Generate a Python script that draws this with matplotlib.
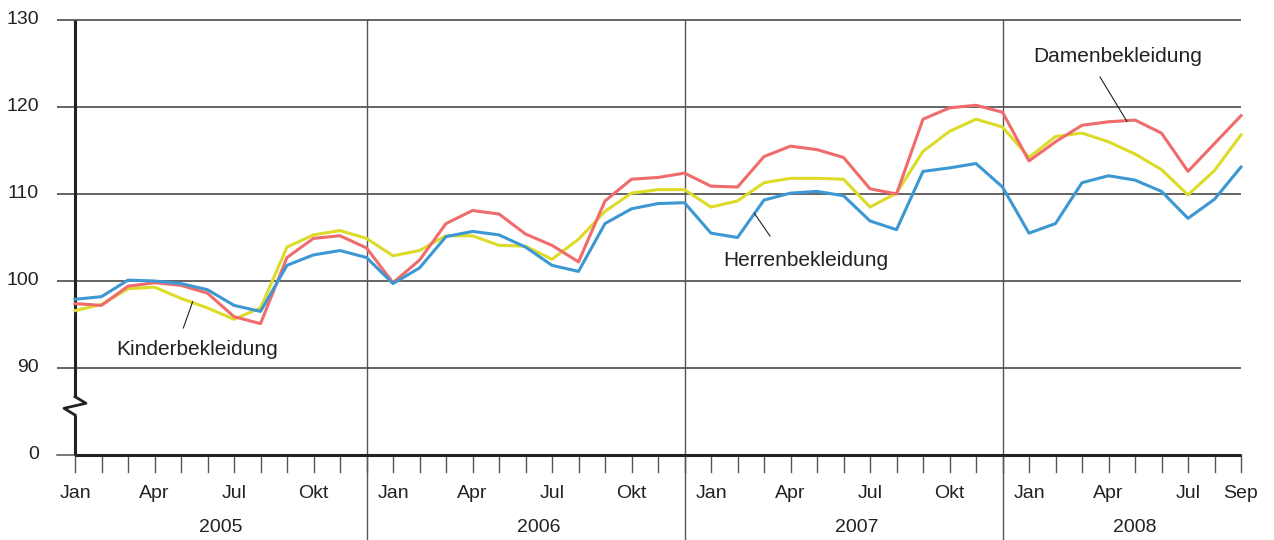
import matplotlib
matplotlib.use("Agg")
import matplotlib.pyplot as plt

plt.rcParams['font.family'] = ['Liberation Sans', 'DejaVu Sans']

# ---------------- data ----------------
month_names = ['Jan', 'Feb', 'Mär', 'Apr', 'Mai', 'Jun',
               'Jul', 'Aug', 'Sep', 'Okt', 'Nov', 'Dez']
years = ['2005', '2006', '2007', '2008']
n_months = 45  # Jan 2005 .. Sep 2008

damen = [97.4, 97.2, 99.4, 99.8, 99.5, 98.6, 95.9, 95.1, 102.7, 104.9, 105.2, 103.8,
         99.8, 102.4, 106.6, 108.1, 107.7, 105.4, 104.1, 102.2, 109.2, 111.7, 111.9, 112.4,
         110.9, 110.8, 114.3, 115.5, 115.1, 114.2, 110.6, 110.0, 118.6, 119.9, 120.2, 119.4,
         113.8, 116.0, 117.9, 118.3, 118.5, 117.0, 112.6, 115.8, 119.0]
herren = [97.9, 98.2, 100.1, 100.0, 99.7, 99.0, 97.2, 96.5, 101.8, 103.0, 103.5, 102.7,
          99.7, 101.5, 105.1, 105.7, 105.3, 103.9, 101.8, 101.1, 106.6, 108.3, 108.9, 109.0,
          105.5, 105.0, 109.3, 110.1, 110.3, 109.8, 106.9, 105.9, 112.6, 113.0, 113.5, 110.8,
          105.5, 106.6, 111.3, 112.1, 111.6, 110.3, 107.2, 109.4, 113.1]
kinder = [96.6, 97.3, 99.1, 99.3, 98.0, 96.9, 95.6, 96.9, 103.9, 105.3, 105.8, 104.9,
          102.9, 103.5, 105.2, 105.2, 104.1, 104.0, 102.5, 104.8, 108.0, 110.1, 110.5, 110.5,
          108.5, 109.2, 111.3, 111.8, 111.8, 111.7, 108.5, 110.1, 114.9, 117.2, 118.6, 117.7,
          114.2, 116.6, 117.0, 116.0, 114.6, 112.8, 109.9, 112.7, 116.8]

y_tick_values = [80, 90, 100, 110, 120, 130]
y_tick_labels = ['0', '90', '100', '110', '120', '130']

# ---------------- layout ----------------
W, H = 1274, 540
X0, X1, YT, YB = 75, 1241, 20, 455
fig = plt.figure(figsize=(W / 100, H / 100), dpi=100)
ax = fig.add_axes([X0 / W, (H - YB) / H, (X1 - X0) / W, (YB - YT) / H])
ax.set_xlim(0, n_months - 1)
ax.set_ylim(80, 130)
ax.axis('off')

px_per_month = (X1 - X0) / (n_months - 1)
px_per_unit = (YB - YT) / 50.0


def dx(px):
    return (px - X0) / px_per_month


def dy(py):
    return 80 + (YB - py) / px_per_unit


grid_col = '#3a3a3a'
axis_col = '#222222'
tick_col = '#555555'

# horizontal grid lines (extend left as ticks)
for v in y_tick_values[1:]:
    ax.plot([dx(57), n_months - 1], [v, v], color=grid_col, lw=1.1,
            clip_on=False, zorder=1, solid_capstyle='butt')
# zero tick
ax.plot([dx(57), 0], [80, 80], color=tick_col, lw=1.1, clip_on=False, zorder=1)

# y tick labels
for v, lab in zip(y_tick_values, y_tick_labels):
    ax.text(dx(39), v, lab, ha='right', va='center', fontsize=14, color='#222222')

# year separators
for i in [11, 23, 35]:
    ax.plot([i, i], [130, dy(540)], color=tick_col, lw=1.0, clip_on=False, zorder=1)

# month ticks and labels
for i in range(n_months):
    ax.plot([i, i], [80, dy(472)], color=tick_col, lw=1.0, clip_on=False, zorder=1)
    m = i % 12
    if m % 3 == 0 or i == n_months - 1:
        ax.text(i, dy(493), month_names[m], ha='center', va='center',
                fontsize=14, color='#222222')

# year labels
year_centers = [5.5, 17.5, 29.5, 40.0]
for c, y in zip(year_centers, years):
    ax.text(c, dy(527), y, ha='center', va='center', fontsize=14, color='#222222')

# bottom axis line
ax.plot([0, n_months - 1], [80, 80], color=axis_col, lw=2.2, clip_on=False,
        zorder=2, solid_capstyle='butt')

# left axis with break
ax.plot([0, 0], [130, dy(396.7)], color=axis_col, lw=2.2, clip_on=False, zorder=2,
        solid_capstyle='butt')
ax.plot([0, dx(86), dx(64), 0], [dy(396.7), dy(403.3), dy(408.3), dy(415)],
        color=axis_col, lw=2.0, clip_on=False, zorder=2)
ax.plot([0, 0], [dy(415), 80], color=axis_col, lw=2.2, clip_on=False, zorder=2,
        solid_capstyle='butt')

# series
x = list(range(n_months))
ax.plot(x, kinder, color='#dcdc28', lw=2.2, zorder=3, clip_on=False)
ax.plot(x, damen, color='#f06b6b', lw=2.2, zorder=4, clip_on=False)
ax.plot(x, herren, color='#3d97d3', lw=2.2, zorder=5, clip_on=False)

# annotations
ann_col = '#222222'
ax.plot([dx(192.7), dx(183.3)], [dy(301.7), dy(328)], color=ann_col, lw=0.8, zorder=6)
ax.text(dx(197.5), dy(350), 'Kinderbekleidung', ha='center', va='center',
        fontsize=15, color=ann_col)
ax.plot([dx(754.3), dx(770)], [dy(213.3), dy(236)], color=ann_col, lw=0.8, zorder=6)
ax.text(dx(806), dy(260.7), 'Herrenbekleidung', ha='center', va='center',
        fontsize=15, color=ann_col)
ax.plot([dx(1100), dx(1127)], [dy(77), dy(121.5)], color=ann_col, lw=0.8, zorder=6)
ax.text(dx(1118), dy(56.7), 'Damenbekleidung', ha='center', va='center',
        fontsize=15, color=ann_col)

fig.savefig('out.png', dpi=100)
